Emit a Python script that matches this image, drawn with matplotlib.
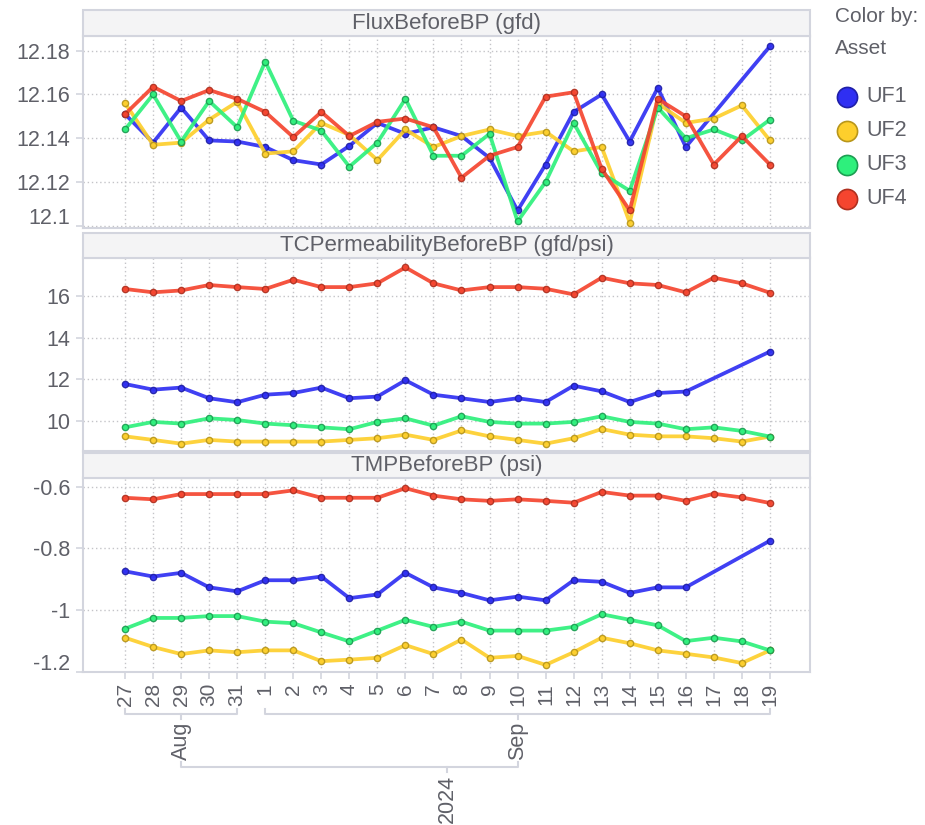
import matplotlib.pyplot as plt
import matplotlib.dates as mdates
import matplotlib.transforms as mtransforms
from matplotlib.patches import Rectangle
from matplotlib.lines import Line2D
import numpy as np
import pandas as pd

nan = np.nan

dates = pd.date_range('2024-08-27', '2024-09-19', freq='D')
assets = ['UF1', 'UF2', 'UF3', 'UF4']
colors = ['#2f2ff2', '#fdcf2c', '#2ef07c', '#f5452f']
edges = ['#1f1fa8', '#b8961a', '#1c9e52', '#b0301f']

flux_uf1 = [12.151, 12.138, 12.154, 12.139, 12.1385, 12.136, 12.130, 12.128, 12.1365, 12.147, 12.142, 12.145,
            12.141, 12.131, 12.107, 12.128, 12.152, 12.160, 12.1385, 12.163, 12.136, nan, nan, 12.182]
flux_uf2 = [12.156, 12.137, 12.138, 12.1485, 12.1566, 12.133, 12.134, 12.147, 12.1415, 12.130, 12.144, 12.136,
            12.141, 12.144, 12.141, 12.143, 12.134, 12.136, 12.1015, 12.156, 12.147, 12.149, 12.155, 12.139]
flux_uf3 = [12.144, 12.160, 12.1385, 12.157, 12.145, 12.175, 12.148, 12.1435, 12.127, 12.138, 12.158, 12.132,
            12.132, 12.142, 12.102, 12.120, 12.147, 12.124, 12.116, 12.154, 12.140, 12.144, 12.139, 12.1485]
flux_uf4 = [12.151, 12.1635, 12.157, 12.162, 12.158, 12.152, 12.1405, 12.152, 12.141, 12.1475, 12.149, 12.145,
            12.122, 12.132, 12.136, 12.159, 12.161, 12.126, 12.107, 12.158, 12.150, 12.128, 12.141, 12.128]

perm_uf1 = [11.78, 11.51, 11.61, 11.10, 10.91, 11.27, 11.35, 11.61, 11.10, 11.18, 11.96, 11.27,
            11.10, 10.92, 11.10, 10.92, 11.70, 11.43, 10.92, 11.35, 11.42, nan, nan, 13.33]
perm_uf2 = [9.28, 9.11, 8.93, 9.11, 9.03, 9.03, 9.03, 9.03, 9.11, 9.19, 9.36, 9.11,
            9.56, 9.28, 9.11, 8.93, 9.19, 9.63, 9.36, 9.28, 9.28, 9.19, 9.03, 9.27]
perm_uf3 = [9.71, 9.97, 9.89, 10.14, 10.06, 9.89, 9.81, 9.71, 9.62, 9.97, 10.14, 9.79,
            10.24, 9.97, 9.89, 9.89, 9.97, 10.24, 9.97, 9.89, 9.62, 9.71, 9.54, 9.27]
perm_uf4 = [16.32, 16.16, 16.25, 16.51, 16.41, 16.32, 16.76, 16.41, 16.41, 16.59, 17.35, 16.59,
            16.25, 16.41, 16.41, 16.33, 16.06, 16.86, 16.59, 16.51, 16.16, 16.86, 16.59, 16.14]

tmp_uf1 = [-0.874, -0.891, -0.879, -0.926, -0.939, -0.903, -0.903, -0.891, -0.961, -0.949, -0.879, -0.926,
           -0.944, -0.968, -0.956, -0.968, -0.903, -0.908, -0.944, -0.926, -0.926, nan, nan, -0.775]
tmp_uf2 = [-1.089, -1.119, -1.142, -1.130, -1.136, -1.130, -1.130, -1.165, -1.160, -1.154, -1.113, -1.142,
           -1.095, -1.154, -1.148, -1.177, -1.136, -1.089, -1.107, -1.130, -1.141, -1.153, -1.171, -1.130]
tmp_uf3 = [-1.060, -1.025, -1.025, -1.019, -1.019, -1.037, -1.042, -1.072, -1.101, -1.066, -1.031, -1.054,
           -1.037, -1.066, -1.066, -1.066, -1.054, -1.013, -1.031, -1.049, -1.100, -1.089, -1.101, -1.130]
tmp_uf4 = [-0.636, -0.641, -0.624, -0.624, -0.624, -0.624, -0.612, -0.636, -0.636, -0.636, -0.605, -0.629,
           -0.641, -0.646, -0.641, -0.646, -0.652, -0.617, -0.629, -0.629, -0.646, -0.623, -0.635, -0.653]

panels = [
    ('FluxBeforeBP (gfd)', [flux_uf1, flux_uf2, flux_uf3, flux_uf4],
     (12.099, 12.1867), [12.10, 12.12, 12.14, 12.16, 12.18], ['12.1', '12.12', '12.14', '12.16', '12.18']),
    ('TCPermeabilityBeforeBP (gfd/psi)', [perm_uf1, perm_uf2, perm_uf3, perm_uf4],
     (8.58, 17.8), [10, 12, 14, 16], ['10', '12', '14', '16']),
    ('TMPBeforeBP (psi)', [tmp_uf1, tmp_uf2, tmp_uf3, tmp_uf4],
     (-1.2, -0.572), [-1.2, -1.0, -0.8, -0.6], ['-1.2', '-1', '-0.8', '-0.6']),
]

W, H = 925, 825
TXT = '#5f6068'
FRAME = '#d3d5de'
GRID = '#c4c4c8'
plt.rcParams['font.family'] = ['Liberation Sans', 'DejaVu Sans']

fig = plt.figure(figsize=(W / 100, H / 100), dpi=100)

def fy(y):
    # pixel row from top -> figure fraction
    return 1 - y / H

left, right = 83, 810
boxes = [(10, 36, 228), (233, 258, 451), (453, 478, 672)]  # header top, plot top, plot bottom

xnum = mdates.date2num(dates)
xlim = (xnum[0] - 1.5, xnum[-1] + 1.43)

axes = []
for (title, series, ylim, yticks, ylabels), (htop, ptop, pbot) in zip(panels, boxes):
    ax = fig.add_axes([left / W, fy(pbot), (right - left) / W, (pbot - ptop) / H])
    axes.append(ax)
    for vals, c, ec in zip(series, colors, edges):
        s = pd.Series(vals, index=xnum).dropna()
        ax.plot(s.index, s.values, color=c, lw=2.7, alpha=0.92, solid_joinstyle='round',
                marker='o', ms=4.5, mfc=c, mec=ec, mew=1.0, zorder=3)
    ax.set_xlim(xlim)
    ax.set_ylim(ylim)
    ax.set_yticks(yticks)
    ax.set_yticklabels(ylabels)
    ax.set_xticks(xnum)
    ax.grid(True, color=GRID, linestyle=(0, (1, 2)), linewidth=1.0)
    ax.set_axisbelow(True)
    for sp in ax.spines.values():
        sp.set_color(FRAME)
        sp.set_linewidth(1.5)
    ax.tick_params(axis='y', length=5, width=1.2, color=FRAME, labelcolor=TXT, labelsize=15.5, pad=4)
    ax.tick_params(axis='x', length=5, width=1.2, color=FRAME, labelcolor=TXT, labelsize=15, pad=3)

    # a tick sitting on the bottom edge gets its label lifted inside the panel
    if abs(yticks[0] - ylim[0]) < 0.03 * (ylim[1] - ylim[0]):
        lab = ax.get_yticklabels()[0]
        lab.set_transform(lab.get_transform() + mtransforms.ScaledTranslation(0, 10 / 100, fig.dpi_scale_trans))

    # header strip
    fig.add_artist(Rectangle((left / W, fy(ptop)), (right - left) / W, (ptop - htop) / H,
                             transform=fig.transFigure, facecolor='#f4f4f5', edgecolor=FRAME, lw=1.5))
    fig.text((left + right) / 2 / W, fy((htop + ptop) / 2), title, ha='center', va='center',
             fontsize=16, color=TXT)

for ax in axes[:-1]:
    ax.tick_params(axis='x', length=0, labelbottom=False)

ax = axes[-1]
ax.set_xticklabels([str(d.day) for d in dates], rotation=90, va='top', ha='center')

# hierarchical date axis: month and year brackets
tr = mtransforms.blended_transform_factory(ax.transData, fig.transFigure)

def bracket(x0, x1, y, xc, up=5, down=5):
    fig.add_artist(Line2D([x0, x0, x1, x1], [fy(y - up), fy(y), fy(y), fy(y - up)],
                          transform=tr, color=FRAME, lw=1.5))
    fig.add_artist(Line2D([xc, xc], [fy(y), fy(y + down)], transform=tr, color=FRAME, lw=1.5))

aug = xnum[dates.month == 8]
sep = xnum[dates.month == 9]
aug_c = (aug[0] + aug[-1]) / 2
sep_c = (sep[0] + sep[-1]) / 2
bracket(aug[0], aug[-1], 714, aug_c)
bracket(sep[0], sep[-1], 714, sep_c)
fig.text(aug_c, fy(722), 'Aug', transform=tr, rotation=90, ha='center', va='top', fontsize=15.5, color=TXT)
fig.text(sep_c, fy(722), 'Sep', transform=tr, rotation=90, ha='center', va='top', fontsize=15.5, color=TXT)

year_c = (xnum[0] + xnum[-1]) / 2
bracket(aug_c, sep_c, 767, year_c)
fig.text(year_c, fy(775), '2024', transform=tr, rotation=90, ha='center', va='top', fontsize=15.5, color=TXT)

# legend
fig.text(835 / W, fy(17), 'Color by:', ha='left', va='center', fontsize=15, color=TXT)
fig.text(835 / W, fy(48), 'Asset', ha='left', va='center', fontsize=15, color=TXT)
for i, (name, c, ec) in enumerate(zip(assets, colors, edges)):
    y = 97 + i * 34
    fig.add_artist(Line2D([847 / W], [fy(y)], transform=fig.transFigure, marker='o', ms=14.5,
                          mfc=c, mec=ec, mew=1.2, linestyle='none'))
    fig.text(866 / W, fy(y), name, ha='left', va='center', fontsize=15.5, color=TXT)

fig.savefig('out.png', dpi=100)
